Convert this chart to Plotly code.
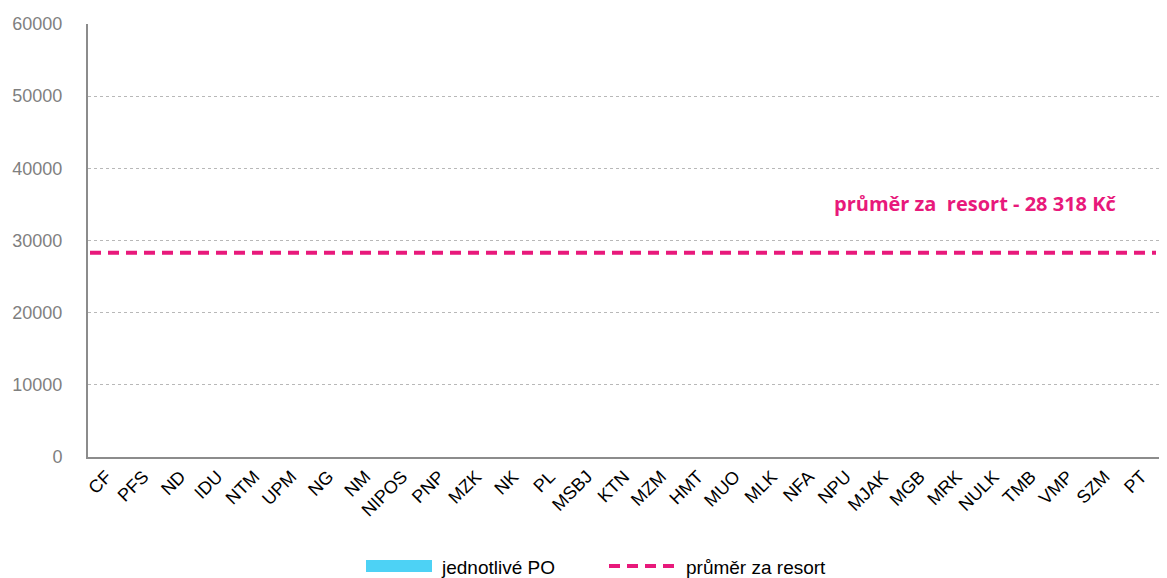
import plotly.graph_objects as go

categories = ["CF", "PFS", "ND", "IDU", "NTM", "UPM", "NG", "NM", "NIPOS", "PNP",
              "MZK", "NK", "PL", "MSBJ", "KTN", "MZM", "HMT", "MUO", "MLK", "NFA",
              "NPU", "MJAK", "MGB", "MRK", "NULK", "TMB", "VMP", "SZM", "PT"]
# individual values are not visible in the reference (bars empty)
values = [None] * len(categories)
mean_value = 28318
y_ticks = [0, 10000, 20000, 30000, 40000, 50000, 60000]

PINK = "#E8197B"
BLUE = "#4DD2F5"
FONT = "Liberation Sans, Arial"

OFF = 8  # default page body margin
W, H = 1167 - OFF, 578 - OFF
L, T = 88 - OFF, 24 - OFF
R = W - (1160 - OFF)
B = H - (457 - OFF)
PW, PH = W - L - R, H - T - B


def px(xp):
    return (xp - OFF - L) / PW


def py(yp):
    return (H - B - (yp - OFF)) / PH


fig = go.Figure()
fig.add_trace(go.Bar(x=categories, y=values, name="jednotlivé PO",
                     marker=dict(color=BLUE), showlegend=False))

fig.add_shape(type="line", xref="paper", yref="y", x0=px(90), x1=px(1156),
              y0=mean_value, y1=mean_value,
              line=dict(color=PINK, width=4, dash="11px,7px"))

fig.add_annotation(xref="paper", yref="y", x=px(975), y=mean_value + 6800,
                   xanchor="center", yanchor="middle",
                   text="<b>průměr za  resort - 28 318 Kč</b>", showarrow=False,
                   font=dict(family="Open Sans, Noto Sans", size=20, color=PINK))

# manual legend
fig.add_shape(type="rect", xref="paper", yref="paper", x0=px(366), x1=px(432),
              y0=py(572), y1=py(560), fillcolor=BLUE, line=dict(width=0))
fig.add_annotation(xref="paper", yref="paper", x=px(439), y=py(567), xanchor="left",
                   yanchor="middle", text="jednotlivé PO", showarrow=False,
                   font=dict(family=FONT, size=19, color="#000"))
fig.add_shape(type="line", xref="paper", yref="paper", x0=px(609), x1=px(675),
              y0=py(566), y1=py(566), line=dict(color=PINK, width=4, dash="11px,7px"))
fig.add_annotation(xref="paper", yref="paper", x=px(684), y=py(567), xanchor="left",
                   yanchor="middle", text="průměr za resort", showarrow=False,
                   font=dict(family=FONT, size=19, color="#000"))

fig.update_layout(
    width=W, height=H,
    margin=dict(l=L, r=R, t=T, b=B),
    paper_bgcolor="white", plot_bgcolor="white",
    showlegend=False,
    xaxis=dict(type="category", tickangle=-45, showgrid=False, automargin=False,
               showline=True, linecolor="#8c8c8c", linewidth=2,
               tickfont=dict(family=FONT, size=18, color="#000"),
               range=[-0.5, len(categories) - 0.5]),
    yaxis=dict(range=[0, 60000], tickvals=y_ticks, ticktext=[str(v) for v in y_ticks],
               showgrid=True, gridcolor="#b8b8b8", griddash="dot", gridwidth=1,
               showline=True, linecolor="#8c8c8c", linewidth=2, zeroline=False,
               automargin=False, ticklabelstandoff=20,
               tickfont=dict(family=FONT, size=18, color="#7f7f7f")),
)

fig.write_html("out.html")
